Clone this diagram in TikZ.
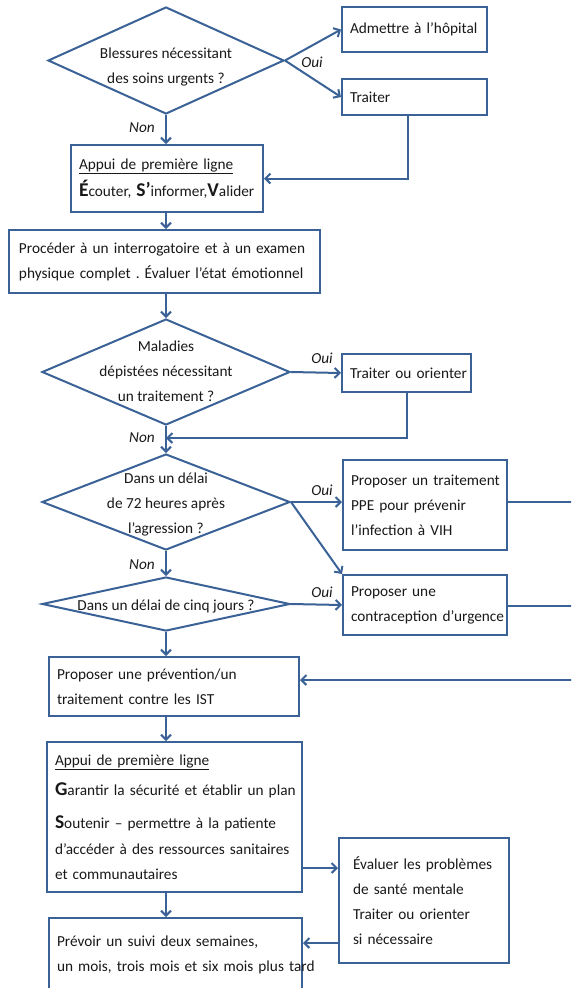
\documentclass[tikz,border=0pt]{standalone}
\usepackage{fontspec}
\setmainfont{Carlito}
\usepackage{xcolor}
\usepackage{tikz}
\usetikzlibrary{arrows.meta, shapes.geometric}

\definecolor{flowblue}{RGB}{58,98,150}
\definecolor{textgray}{RGB}{25,25,25}
\newcommand{\bigini}[1]{{\fontsize{19.5}{25}\selectfont\bfseries #1}}
\newcommand{\oneline}[1]{\mbox{#1}}
\frenchspacing

\tikzset{
  box/.style={draw=flowblue, line width=2pt, align=left, inner xsep=8pt, inner ysep=0pt, text=textgray, font=\fontsize{15.3}{25}\selectfont},
  decision/.style={draw=flowblue, line width=2pt, diamond, inner sep=0pt},
  dtext/.style={align=center, inner sep=0pt, text=textgray, font=\fontsize{15.3}{25}\selectfont},
  yesno/.style={inner sep=0pt, text=textgray, font=\fontsize{15.3}{18}\selectfont\itshape},
  arr/.style={draw=flowblue, line width=2pt, -{Straight Barb[length=5pt,width=10pt]}}
}

\begin{document}
\begin{tikzpicture}[x=1pt,y=-1pt]
\clip (0,0) rectangle (571,988);
\fill[white] (0,0) rectangle (571,988);

\node[decision, minimum width=236pt, minimum height=107pt] (q1) at (166,60.5) {};
\node[dtext] (q1t) at (166,67) {Blessures nécessitant\\des soins urgents ?};
\node[box, minimum width=145pt, minimum height=45pt, text width=129pt] (admit) at (414.5,29.5) {Admettre à l’hôpital};
\node[box, minimum width=145pt, minimum height=36pt, text width=129pt] (treat) at (414.5,97) {Traiter};
\node[box, minimum width=192pt, minimum height=67pt, text width=176pt] (appui1) at (167,178.5)
  {\underline{Appui de première ligne}\\[2pt]\oneline{\bigini{É}couter, \bigini{S’}informer,\bigini{V}alider}};
\node[box, minimum width=311pt, minimum height=63pt, inner xsep=10pt, text width=291pt] (procede) at (164.5,261.5)
  {\oneline{Procéder à un interrogatoire et à un examen}\\\oneline{physique complet . Évaluer l’état émotionnel}};

\node[decision, minimum width=248pt, minimum height=106pt] (q2) at (166,372) {};
\node[dtext] (q2t) at (166,371) {Maladies\\dépistées nécessitant\\un traitement ?};
\node[box, minimum width=129pt, minimum height=38pt, text width=113pt] (orient) at (406.5,373) {\oneline{Traiter ou orienter}};

\node[decision, minimum width=248pt, minimum height=96pt] (q3) at (166,502) {};
\node[dtext] (q3t) at (166,504) {Dans un délai\\de 72 heures après\\l’agression ?};
\node[box, minimum width=164pt, minimum height=90pt, text width=148pt] (ppe) at (425,505)
  {\oneline{Proposer un traitement}\\\oneline{PPE pour prévenir}\\\oneline{l’infection à VIH}};

\node[decision, minimum width=248pt, minimum height=54pt] (q4) at (166,604) {};
\node[dtext] (q4t) at (166,606) {Dans un délai de cinq jours ?};
\node[box, minimum width=164pt, minimum height=60pt, text width=148pt] (contra) at (425,605)
  {Proposer une\\\oneline{contraception d’urgence}};

\node[box, minimum width=250pt, minimum height=59pt, text width=234pt] (ist) at (174,686.5)
  {Proposer une prévention/un\\traitement contre les IST};
\node[box, minimum width=255pt, minimum height=150pt, text width=239pt] (appui2) at (174.5,817)
  {\underline{Appui de première ligne}\\[5pt]
   \oneline{\bigini{G}arantir la sécurité et établir un plan}\\[8pt]
   \oneline{\bigini{S}outenir – permettre à la patiente}\\[1pt]
   \oneline{d’accéder à des ressources sanitaires}\\
   et communautaires};
\node[box, minimum width=170pt, minimum height=125pt, inner xsep=14pt, text width=142pt] (eval) at (424,900.5)
  {\oneline{Évaluer les problèmes}\\de santé mentale\\Traiter ou orienter\\si nécessaire};
\node[box, minimum width=253pt, minimum height=74pt, text width=237pt] (follow) at (175.5,955)
  {\oneline{Prévoir un suivi deux semaines,}\\\oneline{un mois, trois mois et six mois plus tard}};

\node[yesno] (oui1) at (312,62) {Oui};
\node[yesno] (non1) at (142,128) {Non};
\node[yesno] (oui2) at (322,358) {Oui};
\node[yesno] (non2) at (142,438) {Non};
\node[yesno] (oui3) at (322,490) {Oui};
\node[yesno] (non3) at (142,565) {Non};
\node[yesno] (oui4) at (322,592) {Oui};

\coordinate (j1) at (166,438);
\coordinate (edge1) at (575,502);
\coordinate (edge2) at (575,606);
\coordinate (edge3) at (575,680);
\coordinate (a2out) at ([yshift=25pt]appui2.south east);
\coordinate (evout) at ([yshift=-42.5pt]eval.west);

\draw[arr] (q1.east) -- (admit.west);
\draw[arr] (q1.east) -- (treat.west);
\draw[arr] (q1.south) -- (q1.south |- appui1.north);
\draw[arr] ([xshift=-7pt]treat.south) |- (appui1.east);
\draw[arr] (appui1.south -| q1.south) -- (q1.south |- procede.north);
\draw[arr] (procede.south -| q2.north) -- (q2.north);
\draw[arr] (q2.east) -- (orient.west);
\draw[arr] (orient.south) |- (j1);
\draw[arr] (q2.south) -- (q3.north);
\draw[arr] (q3.east) -- (q3.east -| ppe.west);
\draw[arr] (q3.east) -- (contra.north west);
\draw[arr] (q3.south) -- (q4.north);
\draw[arr] (q4.east) -- (contra.west);
\draw[flowblue, line width=2pt] (edge1 -| ppe.east) -- (edge1);
\draw[flowblue, line width=2pt] (edge2 -| contra.east) -- (edge2);
\draw[arr] (edge3) -- (edge3 -| ist.east);
\draw[arr] (q4.south) -- (q4.south |- ist.north);
\draw[arr] (ist.south -| q4.south) -- (q4.south |- appui2.north);
\draw[arr] (a2out) -- (a2out -| eval.west);
\draw[arr] (appui2.south -| q4.south) -- (q4.south |- follow.north);
\draw[arr] (evout) -- (evout -| follow.east);
\end{tikzpicture}
\end{document}
